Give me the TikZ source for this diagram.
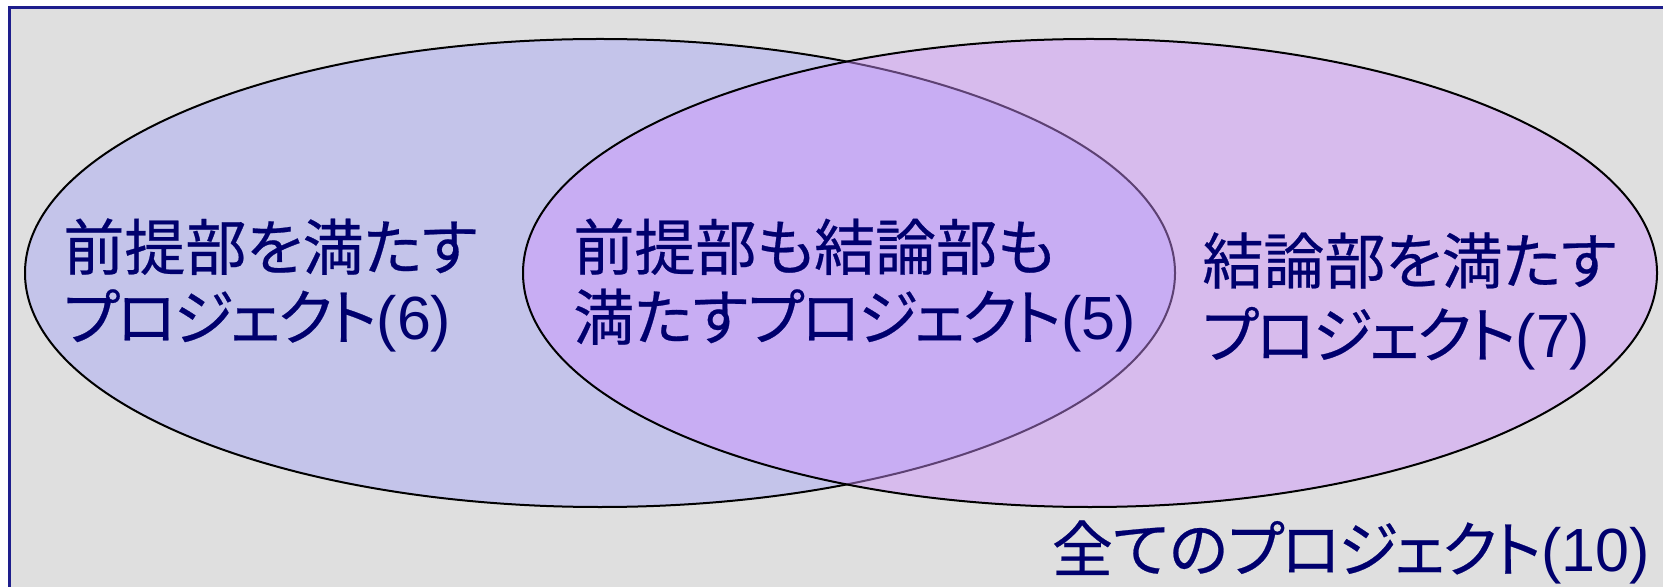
\documentclass[tikz,border=0pt]{standalone}
\usepackage{fontspec}
\newfontfamily\jpfont[RawFeature=+palt, FakeBold=0.4]{Noto Sans CJK JP}
\newfontfamily\kanafont[RawFeature=+palt, FakeBold=0.4, LetterSpace=-4.5]{Noto Sans CJK JP}
\newfontfamily\latfont{Liberation Sans}
\newcommand{\proj}{{\kanafont プロジェクト}}
\definecolor{bggray}{RGB}{223,223,223}
\definecolor{framenavy}{RGB}{30,30,140}
\definecolor{leftfill}{RGB}{196,196,234}
\definecolor{rightfill}{RGB}{207,145,255}
\definecolor{textnavy}{RGB}{0,0,110}
\tikzset{
  framebox/.style={fill=bggray, draw=framenavy, line width=1.5pt},
  setL/.style={fill=leftfill, draw=black, line width=1pt},
  setR/.style={fill=rightfill, fill opacity=0.45, draw=black, draw opacity=1, line width=1pt},
  lbl/.style={inner sep=0pt, align=left, text=textnavy, font=\jpfont\fontsize{30.5}{35}\selectfont},
  lblwide/.style={lbl, font=\jpfont\fontsize{30.5}{37}\selectfont},
}
\begin{document}
\begin{tikzpicture}[x=0.5pt,y=-0.5pt]
\useasboundingbox (0,0) rectangle (1663,587);
\clip (0,0) rectangle (1663,587);
\fill[white] (0,0) rectangle (1663,587);
\draw[framebox] (9,8) rectangle (1700,640);
\draw[setL] (600,273) ellipse [x radius=575, y radius=234];
\draw[setR] (1090,273) ellipse [x radius=567, y radius=234];
\node[lbl, anchor=north west] (left) at (63,218) {前提部を満たす\\\proj{\latfont(6)}};
\node[lbl, anchor=north west] (mid) at (573,218) {前提部も結論部も\\満たす\proj{\latfont(5)}};
\node[lblwide, anchor=north west] (right) at (1202,232) {結論部を満たす\\\proj{\latfont(7)}};
\node[lbl, anchor=north east] (all) at (1650,520) {全ての\proj{\latfont(10)}};
\end{tikzpicture}
\end{document}
